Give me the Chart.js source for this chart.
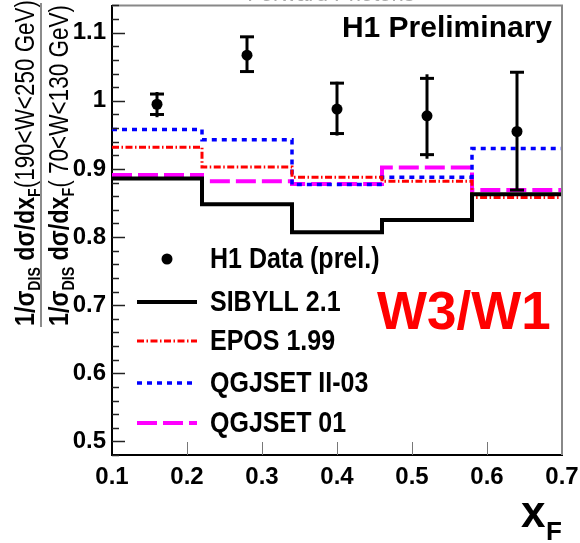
<!DOCTYPE html>
<html>
<head>
<meta charset="utf-8">
<script src="https://cdn.jsdelivr.net/npm/chart.js@4.4.1/dist/chart.umd.min.js"></script>
<style>
  html, body { margin: 0; padding: 0; background: #fff; }
  canvas { display: block; }
</style>
</head>
<body>
<canvas id="chart" width="580" height="543"></canvas>
<script>
const binEdges = [0.1, 0.22, 0.34, 0.46, 0.58, 0.7];
const dataX = [0.16, 0.28, 0.40, 0.52, 0.64];
const dataY = [0.995, 1.067, 0.988, 0.978, 0.955];
const statHigh = [1.010, 1.094, 1.026, 1.033, 1.042];
const statLow = [0.980, 1.043, 0.952, 0.921, 0.869];
const totHigh = [1.013, 1.095, 1.028, 1.039, 1.042];
const totLow = [0.976, 1.042, 0.949, 0.915, 0.869];
const sibyll = [0.886, 0.848, 0.807, 0.825, 0.863];
const epos = [0.932, 0.903, 0.888, 0.882, 0.858];
const qgsjetII = [0.958, 0.943, 0.877, 0.888, 0.930];
const qgsjet01 = [0.891, 0.882, 0.878, 0.902, 0.869];
const xTicks = [0.1, 0.2, 0.3, 0.4, 0.5, 0.6, 0.7];
const yTicks = [0.5, 0.6, 0.7, 0.8, 0.9, 1.0, 1.1];
const legendLabels = ['H1 Data (prel.)', 'SIBYLL 2.1', 'EPOS 1.99', 'QGJSET II-03', 'QGJSET 01'];

const FONT = '"Liberation Sans", Arial, Helvetica, sans-serif';

function histPoints(values) {
    return binEdges.map((x, i) => ({ x, y: values[Math.min(i, values.length - 1)] }));
}

function histDataset(label, values, color, width, dash) {
    return {
        label,
        data: histPoints(values),
        stepped: 'before',
        borderColor: color,
        borderWidth: width,
        borderDash: dash,
        borderJoinStyle: 'miter',
        borderCapStyle: 'butt',
        pointRadius: 0,
        fill: false,
    };
}

const datasets = [
    {
        label: legendLabels[0],
        data: dataX.map((x, i) => ({ x, y: dataY[i] })),
        showLine: false,
        pointRadius: 5.5,
        pointBackgroundColor: '#000',
        pointBorderColor: '#000',
        pointBorderWidth: 0,
    },
    histDataset(legendLabels[1], sibyll, '#000000', 4, []),
    histDataset(legendLabels[2], epos, '#ff0000', 3, [7, 2.5, 1.5, 2.5]),
    histDataset(legendLabels[3], qgsjetII, '#0000ff', 3.5, [5, 5]),
    histDataset(legendLabels[4], qgsjet01, '#ff00ff', 4, [20, 6]),
];

// error bars: line to the total error, caps at the stat error
const errorBars = {
    id: 'errorBars',
    afterDatasetsDraw(chart) {
        const { ctx, scales: { x, y } } = chart;
        ctx.save();
        ctx.strokeStyle = '#000';
        ctx.lineWidth = 3;
        dataX.forEach((v, i) => {
            const px = x.getPixelForValue(v);
            ctx.beginPath();
            ctx.moveTo(px, y.getPixelForValue(totHigh[i]));
            ctx.lineTo(px, y.getPixelForValue(totLow[i]));
            ctx.stroke();
            [statHigh[i], statLow[i]].forEach((e) => {
                const py = y.getPixelForValue(e);
                ctx.beginPath();
                ctx.moveTo(px - 7, py);
                ctx.lineTo(px + 7, py);
                ctx.stroke();
            });
        });
        ctx.restore();
    },
};

function drawRich(ctx, parts, x, y, length) {
    // parts drawn along the rotated baseline, squeezed to the given length
    let total = 0;
    parts.forEach((p) => {
        ctx.font = p.font;
        p.w = ctx.measureText(p.t).width;
        total += p.w;
    });
    ctx.save();
    ctx.translate(x, y);
    ctx.rotate(-Math.PI / 2);
    ctx.scale(length / total, 1);
    ctx.textBaseline = 'alphabetic';
    ctx.textAlign = 'left';
    let pos = 0;
    parts.forEach((p) => {
        ctx.font = p.font;
        ctx.fillText(p.t, pos, p.dy || 0);
        pos += p.w;
    });
    ctx.restore();
}

function yTitleParts(range) {
    const big = `bold 28px ${FONT}`;
    const sub = `bold 17px ${FONT}`;
    return [
        { t: '1/σ', font: big },
        { t: 'DIS', font: sub, dy: 6 },
        { t: ' dσ/dx', font: big },
        { t: 'F', font: sub, dy: 6 },
        { t: range, font: `27px ${FONT}` },
    ];
}

// text a bit taller than wide, as in the original figure
function tallText(ctx, text, x, y, stretch) {
    ctx.save();
    ctx.translate(x, y);
    ctx.scale(1, stretch);
    ctx.fillText(text, 0, 0);
    ctx.restore();
}

const decorations = {
    id: 'decorations',
    afterDraw(chart) {
        const { ctx, chartArea: area, scales: { x, y } } = chart;
        ctx.save();

        // frame top/right
        ctx.strokeStyle = '#888';
        ctx.lineWidth = 2;
        ctx.beginPath();
        ctx.moveTo(area.left, area.top);
        ctx.lineTo(area.right, area.top);
        ctx.lineTo(area.right, area.bottom);
        ctx.stroke();

        // y ticks pointing inward, minor every 0.02
        ctx.strokeStyle = '#222';
        ctx.lineWidth = 1.5;
        for (let k = 24; k <= 57; k++) {
            const py = Math.round(y.getPixelForValue(k * 0.02)) + 0.5;
            const len = k % 5 === 0 ? 13 : 7;
            ctx.beginPath();
            ctx.moveTo(area.left, py);
            ctx.lineTo(area.left + len, py);
            ctx.stroke();
        }
        // x ticks pointing inward
        ctx.strokeStyle = '#777';
        ctx.lineWidth = 1;
        xTicks.slice(1, -1).forEach((v) => {
            const px = Math.round(x.getPixelForValue(v)) + 0.5;
            ctx.beginPath();
            ctx.moveTo(px, area.bottom);
            ctx.lineTo(px, area.bottom - 13);
            ctx.stroke();
        });

        // clipped title above the frame
        ctx.fillStyle = '#aaa';
        ctx.font = `22px ${FONT}`;
        ctx.textAlign = 'center';
        ctx.textBaseline = 'alphabetic';
        ctx.fillText('Forward Photons', 331, 1);

        // H1 Preliminary
        ctx.fillStyle = '#000';
        ctx.font = `bold 30px ${FONT}`;
        ctx.textAlign = 'right';
        ctx.fillText('H1 Preliminary', 552, 37);

        // W3/W1
        ctx.fillStyle = '#ff0000';
        ctx.font = `bold 53px ${FONT}`;
        ctx.textAlign = 'left';
        ctx.textBaseline = 'middle';
        ctx.fillText('W3/W1', 377, 314);

        // legend
        const rows = [259, 302, 341, 383, 423];
        ctx.font = `bold 25px ${FONT}`;
        rows.forEach((ry, i) => {
            const ds = chart.data.datasets[i];
            ctx.fillStyle = '#000';
            if (i === 0) {
                ctx.beginPath();
                ctx.arc(167, ry, 5.5, 0, Math.PI * 2);
                ctx.fill();
            } else {
                ctx.save();
                ctx.strokeStyle = ds.borderColor;
                ctx.lineWidth = ds.borderWidth;
                ctx.setLineDash(ds.borderDash);
                ctx.beginPath();
                ctx.moveTo(137, ry);
                ctx.lineTo(197, ry);
                ctx.stroke();
                ctx.restore();
            }
            ctx.textBaseline = 'middle';
            tallText(ctx, ds.label, 210, ry + 1, 1.2);
        });

        // x axis title
        ctx.fillStyle = '#000';
        ctx.font = `bold 44px ${FONT}`;
        ctx.textBaseline = 'alphabetic';
        ctx.fillText('x', 521, 527);
        ctx.font = `bold 26px ${FONT}`;
        ctx.fillText('F', 546, 540);

        // y axis title as a fraction
        drawRich(ctx, yTitleParts('(190<W<250 GeV)'), 34, 326, 326);
        drawRich(ctx, yTitleParts('( 70<W<130 GeV)'), 68, 326, 321);
        ctx.strokeStyle = '#666';
        ctx.lineWidth = 1.5;
        ctx.beginPath();
        ctx.moveTo(41, 3);
        ctx.lineTo(41, 327);
        ctx.stroke();

        ctx.restore();
    },
};

new Chart(document.getElementById('chart'), {
    type: 'line',
    data: { datasets },
    options: {
        responsive: false,
        animation: false,
        devicePixelRatio: 1,
        layout: { padding: { top: 3, right: 18, left: 0, bottom: 0 } },
        plugins: { legend: { display: false }, tooltip: { enabled: false } },
        scales: {
            x: {
                type: 'linear',
                min: 0.1,
                max: 0.7,
                afterBuildTicks(scale) {
                    scale.ticks = xTicks.map((v) => ({ value: v }));
                },
                afterFit(scale) {
                    scale.height = 88;
                    scale.paddingLeft = 0;
                    scale.paddingRight = 0;
                },
                grid: { display: false, drawTicks: false },
                border: { display: true, color: '#000', width: 2 },
                ticks: {
                    autoSkip: false,
                    maxRotation: 0,
                    padding: 8,
                    color: '#000',
                    font: { family: FONT, size: 24, weight: 'bold' },
                    callback: (v) => Number(v).toFixed(1),
                },
            },
            y: {
                type: 'linear',
                min: 0.48,
                max: 1.14,
                afterBuildTicks(scale) {
                    scale.ticks = yTicks.map((v) => ({ value: v }));
                },
                afterFit(scale) {
                    scale.width = 112;
                    scale.paddingTop = 0;
                    scale.paddingBottom = 0;
                },
                grid: { display: false, drawTicks: false },
                border: { display: true, color: '#000', width: 2 },
                ticks: {
                    autoSkip: false,
                    padding: 6,
                    color: '#000',
                    font: { family: FONT, size: 24, weight: 'bold' },
                    callback: (v) => String(Number(Number(v).toFixed(1))),
                },
            },
        },
    },
    plugins: [errorBars, decorations],
});
</script>
</body>
</html>
